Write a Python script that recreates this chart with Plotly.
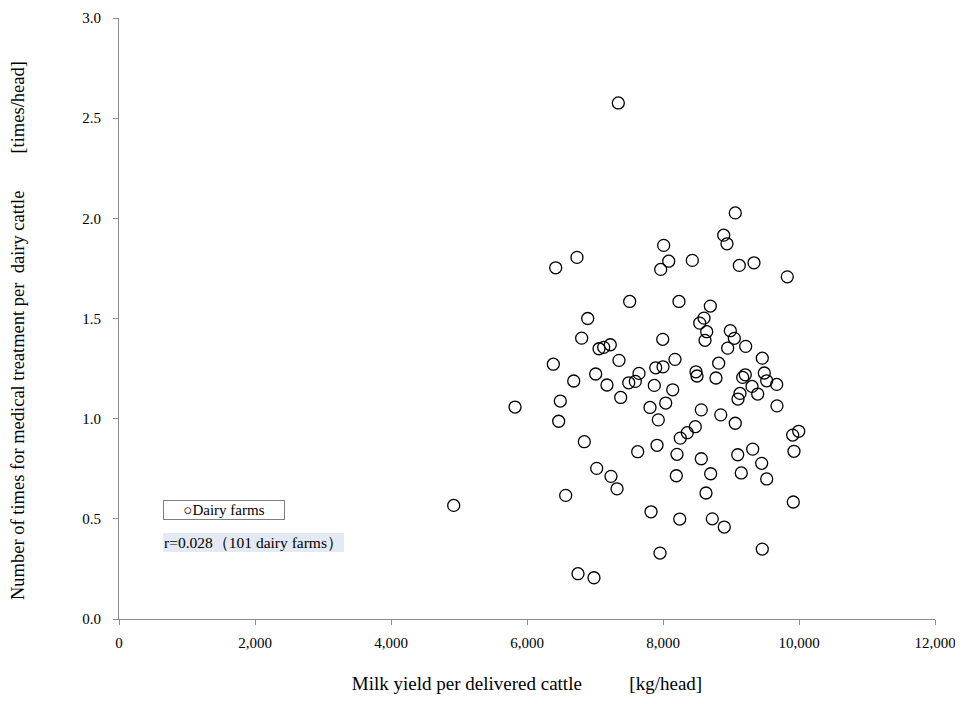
import plotly.graph_objects as go

# Milk yield per delivered cattle [kg/head]
milk_yield = [
    7343, 9063, 8893, 8941, 8010, 6735, 8084, 7966, 8431, 9122,
    9338, 9828, 7510, 8235, 8696, 6893, 8603, 8540, 8643, 8618,
    8990, 9049, 8951, 9216, 6804, 7996, 7059, 7128, 7225, 7353,
    8176, 9460, 8819, 7010, 7647, 7593, 7496, 7893, 8000, 8485,
    8500, 8779, 9210, 9172, 9490, 9525, 9672, 9309, 9393, 9132,
    9103, 9676, 6687, 7176, 7872, 8143, 7378, 8040, 7809, 8563,
    8849, 9063, 7931, 6490, 6466, 8475, 8357, 9996, 6422, 6387,
    5824, 4922, 6569, 8254, 9907, 6843, 7628, 7912, 8206, 8563,
    9099, 9319, 9451, 9926, 7025, 7235, 7324, 8196, 8701, 9151,
    9525, 8632, 9916, 7824, 8246, 8725, 8901, 7956, 9460, 6750,
    6985,
]

# Number of times for medical treatment per dairy cattle [times/head]
treatments = [
    2.576, 2.027, 1.916, 1.873, 1.865, 1.805, 1.786, 1.745, 1.790, 1.765,
    1.778, 1.708, 1.585, 1.585, 1.562, 1.500, 1.502, 1.477, 1.434, 1.391,
    1.439, 1.401, 1.352, 1.361, 1.402, 1.396, 1.349, 1.356, 1.369, 1.291,
    1.296, 1.302, 1.277, 1.223, 1.226, 1.186, 1.179, 1.254, 1.259, 1.234,
    1.213, 1.203, 1.219, 1.206, 1.228, 1.189, 1.171, 1.161, 1.123, 1.126,
    1.098, 1.064, 1.188, 1.168, 1.166, 1.144, 1.106, 1.078, 1.056, 1.044,
    1.019, 0.977, 0.994, 1.088, 0.987, 0.960, 0.930, 0.937, 1.753, 1.272,
    1.058, 0.567, 0.617, 0.903, 0.918, 0.885, 0.835, 0.867, 0.822, 0.800,
    0.820, 0.848, 0.777, 0.837, 0.752, 0.712, 0.650, 0.715, 0.725, 0.729,
    0.699, 0.629, 0.584, 0.535, 0.499, 0.500, 0.459, 0.329, 0.349, 0.226,
    0.206,
]

x_ticks = [0, 2000, 4000, 6000, 8000, 10000, 12000]
x_tick_labels = ["0", "2,000", "4,000", "6,000", "8,000", "10,000", "12,000"]
y_ticks = [0.0, 0.5, 1.0, 1.5, 2.0, 2.5, 3.0]
y_tick_labels = ["0.0", "0.5", "1.0", "1.5", "2.0", "2.5", "3.0"]

series_name = "Dairy farms"
corr_text = "r=0.028（101 dairy farms）"

FONT = "Liberation Serif, Times New Roman, serif"
NB = "\u00a0"
x_title = "Milk yield per delivered cattle" + NB * 10 + "[kg/head]"
y_title = ("Number of times for medical treatment per" + NB * 2 +
           "dairy cattle" + NB * 8 + "[times/head]")

# page body has an 8px default margin, so the figure is shrunk by 8px
OFF = 8
W, H = 963 - OFF, 704 - OFF
L, T = 119 - OFF, 18 - OFF
PW, PH = 816, 601

fig = go.Figure()
fig.add_trace(go.Scatter(
    x=milk_yield, y=treatments, mode="markers", name=series_name,
    marker=dict(symbol="circle-open", size=12, color="black",
                line=dict(color="black", width=1.3)),
    showlegend=False,
))

fig.add_annotation(
    xref="paper", yref="paper", x=(163 - 119) / PW, y=(619 - 500) / PH,
    xanchor="left", yanchor="top",
    text="○" + series_name, showarrow=False,
    font=dict(family=FONT, size=15, color="black"),
    bgcolor="white", bordercolor="#7f7f7f", borderwidth=1,
    width=118, height=16, align="center",
)
fig.add_annotation(
    xref="paper", yref="paper", x=(163 - 119) / PW, y=(619 - 533) / PH,
    xanchor="left", yanchor="top",
    text=corr_text, showarrow=False,
    font=dict(family=FONT, size=15.5, color="black"),
    bgcolor="#E4EAF3", borderwidth=0,
    width=179, height=17, align="left",
)
# y-axis title (placed as rotated text so it sits where the original does)
fig.add_annotation(
    xref="paper", yref="paper", x=(18 - 119) / PW, y=(619 - 331) / PH,
    xanchor="center", yanchor="middle", textangle=-90,
    text=y_title, showarrow=False,
    font=dict(family=FONT, size=18.5, color="black"),
)

fig.update_layout(
    width=W, height=H,
    margin=dict(l=L, r=W - L - PW, t=T, b=H - T - PH, autoexpand=False),
    paper_bgcolor="white", plot_bgcolor="white",
    font=dict(family=FONT, size=15, color="black"),
    xaxis=dict(
        range=[0, 12000], tickvals=x_ticks, ticktext=x_tick_labels,
        showgrid=False, zeroline=False, showline=True, linecolor="#8c8c8c",
        linewidth=1, ticks="outside", ticklen=5, tickcolor="#8c8c8c",
        ticklabelstandoff=5, automargin=False,
        tickfont=dict(family=FONT, size=15, color="black"),
        title=dict(text=x_title,
                   font=dict(family=FONT, size=19, color="black"), standoff=26),
    ),
    yaxis=dict(
        range=[0, 3.0], tickvals=y_ticks, ticktext=y_tick_labels,
        showgrid=False, zeroline=False, showline=True, linecolor="#8c8c8c",
        linewidth=1, ticks="outside", ticklen=5, tickcolor="#8c8c8c",
        ticklabelstandoff=9, automargin=False,
        tickfont=dict(family=FONT, size=15, color="black"),
    ),
)

fig.write_html("out.html")
